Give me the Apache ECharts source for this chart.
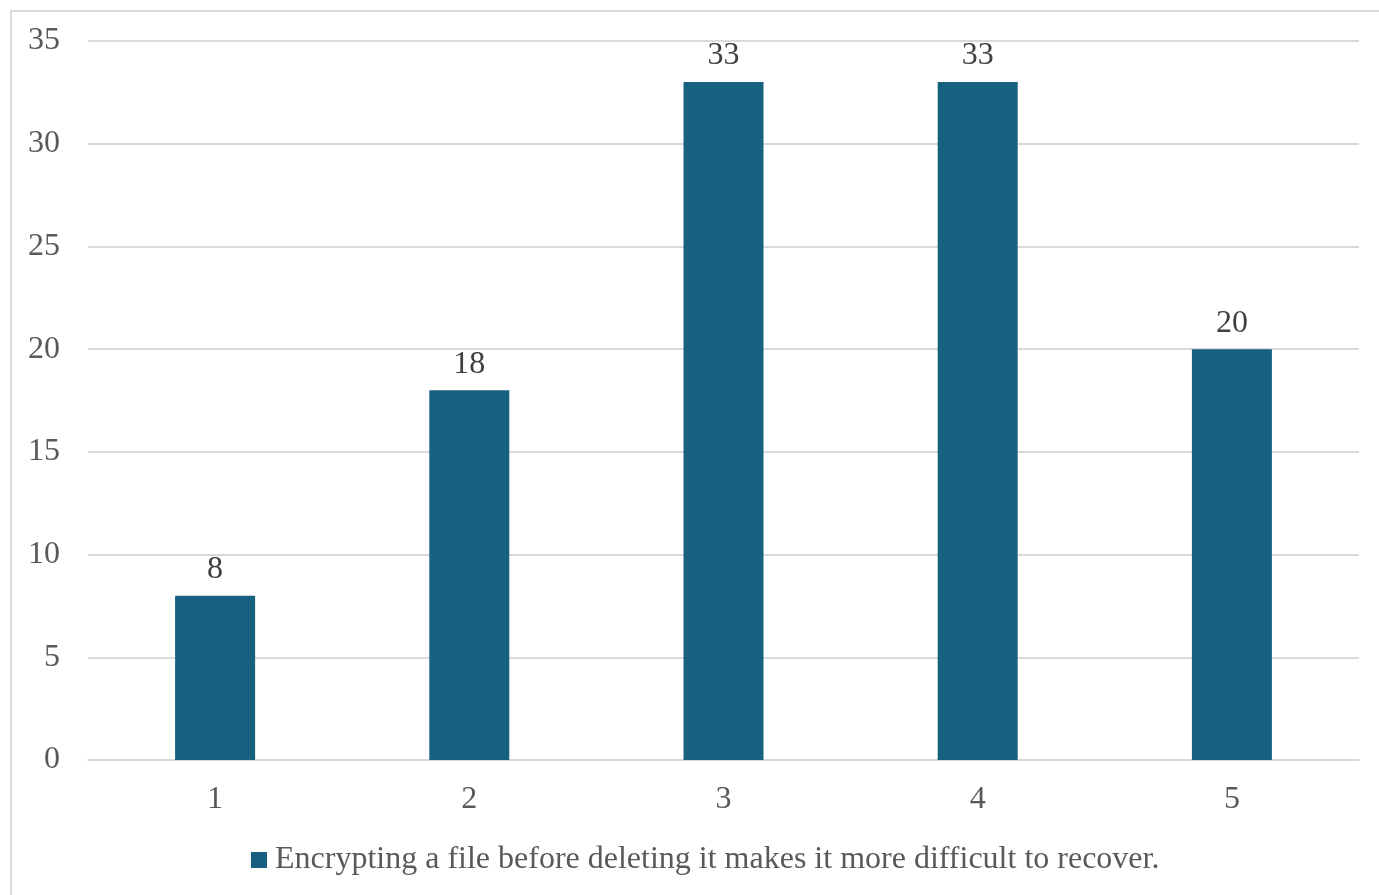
<!DOCTYPE html>
<html>
<head>
<meta charset="utf-8">
<script src="https://cdn.jsdelivr.net/npm/echarts@6/dist/echarts.min.js"></script>
<style>
    html, body { margin: 0; padding: 0; background: #fff; overflow: hidden; }
    .frame { position: absolute; left: 10px; top: 10px; width: 1400px; height: 920px; border: 2px solid #d9d9d9; box-sizing: border-box; }
    .J_chart { position: absolute; left: 0; top: 0; width: 1379px; height: 895px; }
</style>
</head>
<body>
<div class="frame"></div>
<div class="J_chart"></div>
<script>
var categories = ['1', '2', '3', '4', '5'];
var seriesName = 'Encrypting a file before deleting it makes it more difficult to recover.';
var counts = [8, 18, 33, 33, 20];
var yTicks = { min: 0, max: 35, interval: 5 };

var chart = echarts.init(document.querySelector('.J_chart'));
var font = '"Liberation Serif", "Times New Roman", serif';
chart.setOption({
    animation: false,
    textStyle: { fontFamily: font },
    grid: { left: 88, right: 20, top: 41, bottom: 135 },
    legend: {
        data: [seriesName],
        bottom: 14,
        left: 246,
        icon: 'rect',
        itemWidth: 16,
        itemHeight: 16,
        itemGap: 8,
        textStyle: { fontFamily: font, fontSize: 32, color: '#595959', padding: [0, 0, 0, 3] }
    },
    xAxis: {
        type: 'category',
        data: categories,
        axisLine: { lineStyle: { color: '#d9d9d9', width: 2 } },
        axisTick: { show: false },
        axisLabel: { fontFamily: font, fontSize: 32, color: '#595959', margin: 24 }
    },
    yAxis: {
        type: 'value',
        min: yTicks.min,
        max: yTicks.max,
        interval: yTicks.interval,
        axisLine: { show: false },
        axisTick: { show: false },
        splitLine: { lineStyle: { color: '#d9d9d9', width: 2 } },
        axisLabel: { fontFamily: font, fontSize: 32, color: '#595959', margin: 28 }
    },
    series: [{
        name: seriesName,
        type: 'bar',
        data: counts,
        barWidth: 80,
        itemStyle: { color: '#17607f' },
        label: {
            show: true,
            position: 'top',
            distance: 10,
            fontFamily: font,
            fontSize: 32,
            color: '#404040'
        }
    }]
});
</script>
</body>
</html>
